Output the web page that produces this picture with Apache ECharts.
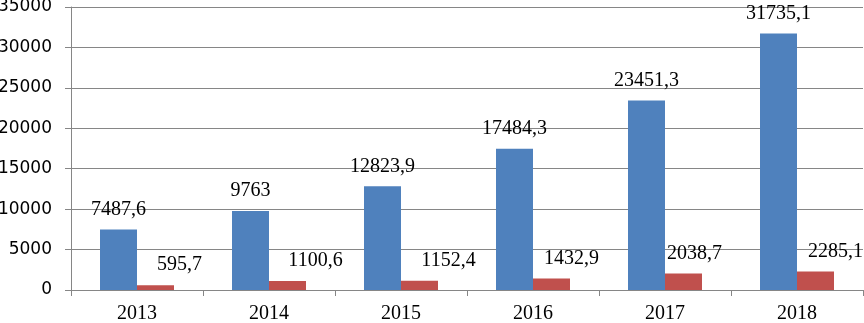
<!DOCTYPE html>
<html>
<head>
<meta charset="utf-8">
<script src="https://cdn.jsdelivr.net/npm/echarts@6/dist/echarts.min.js"></script>
<style>
    html, body { margin: 0; padding: 0; background: #fff; }
    #chart { width: 864px; height: 323px; }
</style>
</head>
<body>
<div id="chart"></div>
<script>
    var years = ['2013', '2014', '2015', '2016', '2017', '2018'];
    var blueValues = [7487.6, 9763, 12823.9, 17484.3, 23451.3, 31735.1];
    var redValues = [595.7, 1100.6, 1152.4, 1432.9, 2038.7, 2285.1];
    var yTicks = { min: 0, max: 35000, interval: 5000 };
    // labels of the red bars were nudged right in the original
    var redLabelShift = [24, 28, 29, 20, 11, 20];

    var gridColor = '#868686';

    function fmt(p) {
        return String(p.value).replace('.', ',');
    }

    var labelBase = {
        show: true,
        position: 'top',
        distance: 10,
        color: '#000',
        fontFamily: '"Liberation Serif", "Times New Roman", serif',
        fontSize: 20,
        formatter: fmt
    };

    var myChart = echarts.init(document.getElementById('chart'));
    myChart.setOption({
        animation: false,
        grid: {
            left: 71,
            right: 1,
            top: 7,
            bottom: 33,
            containLabel: false,
            outerBoundsMode: 'none'
        },
        xAxis: {
            type: 'category',
            data: years,
            axisLine: { lineStyle: { color: gridColor, width: 1 } },
            axisTick: { show: true, length: 6, lineStyle: { color: gridColor } },
            axisLabel: {
                color: '#000',
                fontFamily: '"Liberation Serif", "Times New Roman", serif',
                fontSize: 20,
                margin: 14
            }
        },
        yAxis: {
            type: 'value',
            min: yTicks.min,
            max: yTicks.max,
            interval: yTicks.interval,
            axisLine: { show: true, lineStyle: { color: gridColor, width: 1 } },
            axisTick: { show: true, length: 6, lineStyle: { color: gridColor } },
            splitLine: { lineStyle: { color: gridColor, width: 1 } },
            axisLabel: {
                color: '#000',
                fontFamily: '"DejaVu Sans", Verdana, sans-serif',
                fontSize: 17,
                margin: 19,
                formatter: function (v) { return String(v); }
            }
        },
        series: [
            {
                type: 'bar',
                data: blueValues,
                barWidth: 37,
                barGap: '0%',
                itemStyle: { color: '#4f81bd' },
                label: labelBase
            },
            {
                type: 'bar',
                data: redValues.map(function (v, i) {
                    return {
                        value: v,
                        label: { offset: [redLabelShift[i], 0] }
                    };
                }),
                barWidth: 37,
                barGap: '0%',
                itemStyle: { color: '#c0504d' },
                label: labelBase
            }
        ]
    });
</script>
</body>
</html>
